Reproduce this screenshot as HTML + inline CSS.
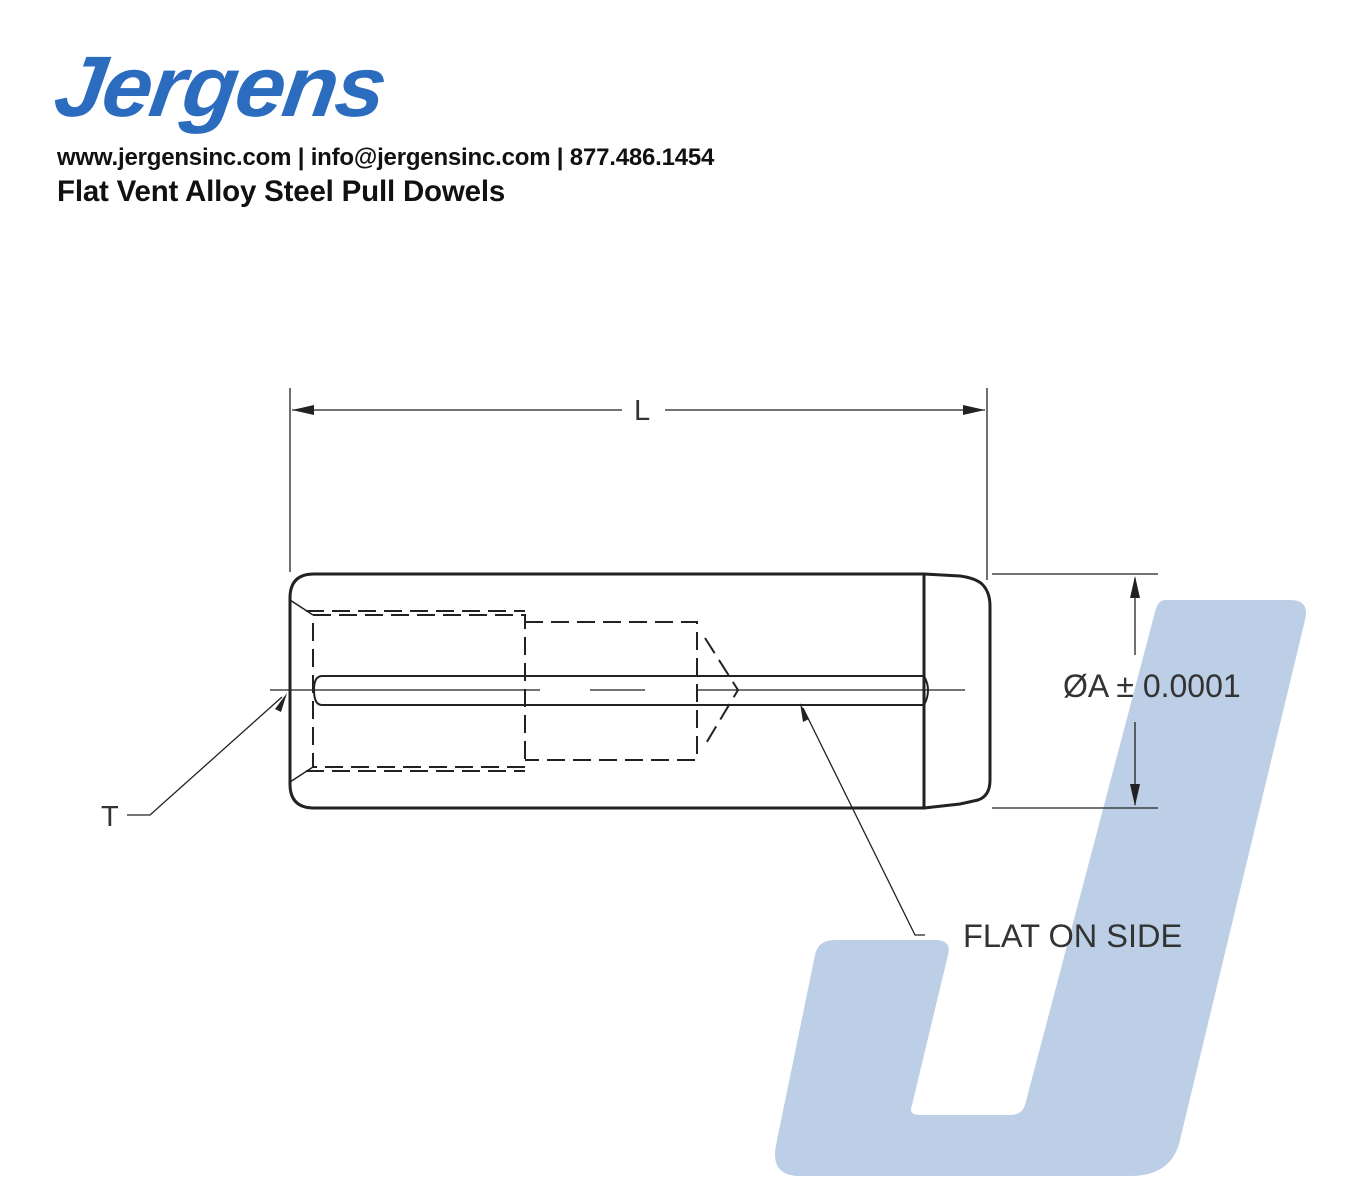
<!DOCTYPE html>
<html><head><meta charset="utf-8"><style>
html,body{margin:0;padding:0;background:#fff;width:1360px;height:1200px;overflow:hidden;font-family:"Liberation Sans",sans-serif}
.logo{position:absolute;left:62px;top:44px;font-size:86px;font-weight:bold;font-style:italic;color:#2b6cbf;letter-spacing:-2px;transform:scaleX(1.04) skewX(-8deg);transform-origin:left top;line-height:1}
.l1{position:absolute;left:57px;top:144px;font-size:24px;font-weight:bold;color:#111;letter-spacing:-0.2px}
.l2{position:absolute;left:57px;top:175px;font-size:29.5px;font-weight:bold;color:#111;letter-spacing:-0.2px}
svg{position:absolute;left:0;top:0}
</style></head><body>
<svg width="1360" height="1200">
<path d="M1165 600 L1290 600 Q1310 600 1305 620 L1180 1140 Q1172 1176 1130 1176 L800 1176 Q770 1176 776 1145 L815 955 Q818 940 835 940 L935 940 Q952 940 948 955 L912 1105 Q908 1115 920 1115 L1010 1115 Q1022 1115 1025 1105 L1155 612 Q1158 600 1165 600 Z" fill="#bccfe6"/>
<g stroke="#222" fill="none">
<line x1="290" y1="388" x2="290" y2="572" stroke-width="1.3"/>
<line x1="987" y1="388" x2="987" y2="580" stroke-width="1.3"/>
<line x1="292" y1="410" x2="622" y2="410" stroke-width="1.3"/>
<line x1="665" y1="410" x2="985" y2="410" stroke-width="1.3"/>
<line x1="992" y1="574" x2="1158" y2="574" stroke-width="1.3"/>
<line x1="992" y1="808" x2="1158" y2="808" stroke-width="1.3"/>
<line x1="1135" y1="578" x2="1135" y2="655" stroke-width="1.3"/>
<line x1="1135" y1="722" x2="1135" y2="805" stroke-width="1.3"/>
<path d="M314 574 L924 574 L924 808 L314 808 Q290 808 290 784 L290 598 Q290 574 314 574 Z" stroke-width="3"/>
<path d="M924 574 L960 576 Q975 578 982 584 Q990 592 990 606 L990 780 Q990 796 978 800 L960 804 L924 808" stroke-width="3"/>
<line x1="270" y1="690" x2="540" y2="690" stroke-width="1.3"/>
<line x1="590" y1="690" x2="645" y2="690" stroke-width="1.3"/>
<line x1="698" y1="690" x2="965" y2="690" stroke-width="1.3"/>
<path d="M322 676 L924 676 Q932 690 924 705 L322 705 Q314 705 314 690 Q314 676 322 676 Z" stroke-width="2"/>
<g stroke-dasharray="18,8" stroke-width="2">
<path d="M313 615 L525 615 L525 767 L313 767 Z"/>
<path d="M306 611 L525 611"/><path d="M306 771 L525 771"/>
<path d="M525 622 L697 622 L697 760 L525 760"/>
<path d="M705 638 L738 690 L705 745"/>
</g>
<line x1="290" y1="600" x2="313" y2="615" stroke-width="1.5"/>
<line x1="290" y1="782" x2="313" y2="767" stroke-width="1.5"/>
<polyline points="127,815 150,815 282,697" stroke-width="1.3"/>
<polyline points="925,935 915,935 803,708" stroke-width="1.3"/>
</g>
<g fill="#222">
<polygon points="292,410 314,405 314,415"/>
<polygon points="985,410 963,405 963,415"/>
<polygon points="1135,576 1130,598 1140,598"/>
<polygon points="1135,806 1130,784 1140,784"/>
<polygon points="287,693 275,709 281,712"/>
<polygon points="800,703 803,722 809,719"/>
</g>
<g font-family="Liberation Sans, sans-serif" fill="#333">
<text x="634" y="420" font-size="29">L</text>
<text x="1063" y="697" font-size="32">ØA ± 0.0001</text>
<text x="101" y="826" font-size="29">T</text>
<text x="963" y="947" font-size="32.5">FLAT ON SIDE</text>
</g>
</svg>
<div class="logo">Jergens</div>
<div class="l1">www.jergensinc.com | info@jergensinc.com | 877.486.1454</div>
<div class="l2">Flat Vent Alloy Steel Pull Dowels</div>
</body></html>
